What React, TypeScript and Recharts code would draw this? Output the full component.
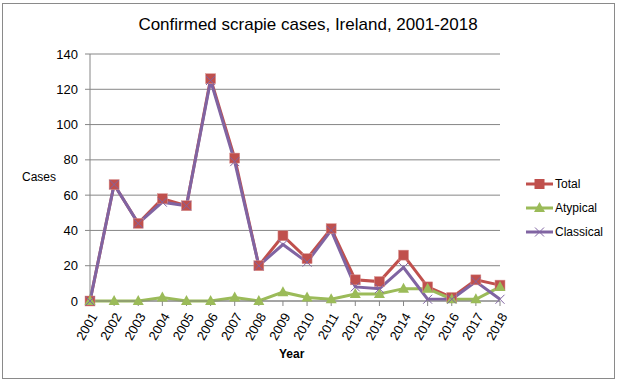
import { LineChart, Line, XAxis, YAxis, CartesianGrid } from 'recharts'

const years = ['2001', '2002', '2003', '2004', '2005', '2006', '2007', '2008', '2009', '2010', '2011', '2012', '2013', '2014', '2015', '2016', '2017', '2018']
const total = [0, 66, 44, 58, 54, 126, 81, 20, 37, 24, 41, 12, 11, 26, 8, 2, 12, 9]
const atypical = [0, 0, 0, 2, 0, 0, 2, 0, 5, 2, 1, 4, 4, 7, 7, 1, 1, 8]
const classical = [0, 66, 44, 56, 54, 125, 79, 20, 32, 22, 40, 8, 7, 19, 1, 1, 11, 1]
const yTicks = [0, 20, 40, 60, 80, 100, 120, 140]

const data = years.map((year, i) => ({
    year,
    Total: total[i],
    Atypical: atypical[i],
    Classical: classical[i],
}))

const FONT = '"Liberation Sans", Arial, sans-serif'
const RED = '#C0504D'
const GREEN = '#9BBB59'
const PURPLE = '#8064A2'
const GRID = '#868686'

const SquareDot = (props: any) => {
    const { cx, cy } = props
    if (cx == null || cy == null) return null
    return <rect x={cx - 5} y={cy - 5} width={10} height={10} fill={RED} stroke="#D99694" strokeWidth={0.5} />
}

const TriangleDot = (props: any) => {
    const { cx, cy } = props
    if (cx == null || cy == null) return null
    return <path d={`M${cx},${cy - 6} L${cx + 5.5},${cy + 4} L${cx - 5.5},${cy + 4} Z`} fill={GREEN} />
}

const CrossDot = (props: any) => {
    const { cx, cy } = props
    if (cx == null || cy == null) return null
    return (
        <path
            d={`M${cx - 4.5},${cy - 4.5} L${cx + 4.5},${cy + 4.5} M${cx + 4.5},${cy - 4.5} L${cx - 4.5},${cy + 4.5}`}
            stroke={PURPLE}
            strokeWidth={1}
            fill="none"
        />
    )
}

const YearTick = (props: any) => {
    const { x, y, payload } = props
    return (
        <g transform={`translate(${x + 4},${y + 6})`}>
            <text
                transform="rotate(-60)"
                textAnchor="end"
                dominantBaseline="central"
                fontSize={13}
                fontFamily={FONT}
                fill="#000"
            >
                {payload.value}
            </text>
        </g>
    )
}

const legendItems = [
    { name: 'Total', color: RED, marker: 'square' },
    { name: 'Atypical', color: GREEN, marker: 'triangle' },
    { name: 'Classical', color: PURPLE, marker: 'cross' },
]

const LegendBox = () => (
    <div style={{ position: 'absolute', left: 525, top: 172, fontFamily: FONT, fontSize: 12 }}>
        {legendItems.map((item) => (
            <div key={item.name} style={{ display: 'flex', alignItems: 'center', height: 24 }}>
                <svg width={30} height={14}>
                    <line x1={1} y1={7} x2={28} y2={7} stroke={item.color} strokeWidth={3} />
                    {item.marker === 'square' && <rect x={9.5} y={2} width={10} height={10} fill={item.color} />}
                    {item.marker === 'triangle' && <path d="M14.5,1 L20,11 L9,11 Z" fill={item.color} />}
                    {item.marker === 'cross' && <path d="M10,2.5 L19,11.5 M19,2.5 L10,11.5" stroke={item.color} strokeWidth={1} />}
                </svg>
                <span>{item.name}</span>
            </div>
        ))}
    </div>
)

export default function App() {
    return (
        <div style={{ position: 'absolute', left: 0, top: 0, width: 621, height: 383, background: '#fff', fontFamily: FONT }}>
            <div style={{ position: 'absolute', left: 2, top: 3, width: 611, height: 374, border: '1px solid #8a8a8a' }} />
            <div style={{ position: 'absolute', left: 0, top: 15, width: 616, textAlign: 'center', fontSize: 17, color: '#000' }}>
                Confirmed scrapie cases, Ireland, 2001-2018
            </div>
            <div style={{ position: 'absolute', left: 279, top: 347, fontSize: 12, fontWeight: 'bold' }}>Year</div>
            <div style={{ position: 'absolute', left: 22, top: 170, fontSize: 12 }}>Cases</div>
            <LegendBox />
            <div style={{ position: 'absolute', left: 0, top: 0 }}>
                <LineChart width={621} height={383} data={data} margin={{ top: 54, right: 121, bottom: 0, left: 10 }}>
                    <CartesianGrid horizontal vertical={false} stroke={GRID} strokeWidth={1} />
                    <XAxis
                        dataKey="year"
                        height={82}
                        axisLine={{ stroke: GRID }}
                        tickLine={{ stroke: GRID }}
                        tickSize={5}
                        tick={<YearTick />}
                        interval={0}
                        padding={{ left: 0, right: 0 }}
                    />
                    <YAxis
                        width={80}
                        domain={[0, 140]}
                        ticks={yTicks}
                        axisLine={{ stroke: GRID }}
                        tickLine={{ stroke: GRID }}
                        tickSize={5}
                        tickMargin={7}
                        tick={{ fontSize: 13, fill: '#000', fontFamily: FONT }}
                    />
                    <Line
                        dataKey="Total"
                        stroke={RED}
                        strokeWidth={3}
                        dot={<SquareDot />}
                        activeDot={false}
                        isAnimationActive={false}
                    />
                    <Line
                        dataKey="Atypical"
                        stroke={GREEN}
                        strokeWidth={3}
                        dot={<TriangleDot />}
                        activeDot={false}
                        isAnimationActive={false}
                    />
                    <Line
                        dataKey="Classical"
                        stroke={PURPLE}
                        strokeWidth={3}
                        dot={<CrossDot />}
                        activeDot={false}
                        isAnimationActive={false}
                    />
                </LineChart>
            </div>
        </div>
    )
}
